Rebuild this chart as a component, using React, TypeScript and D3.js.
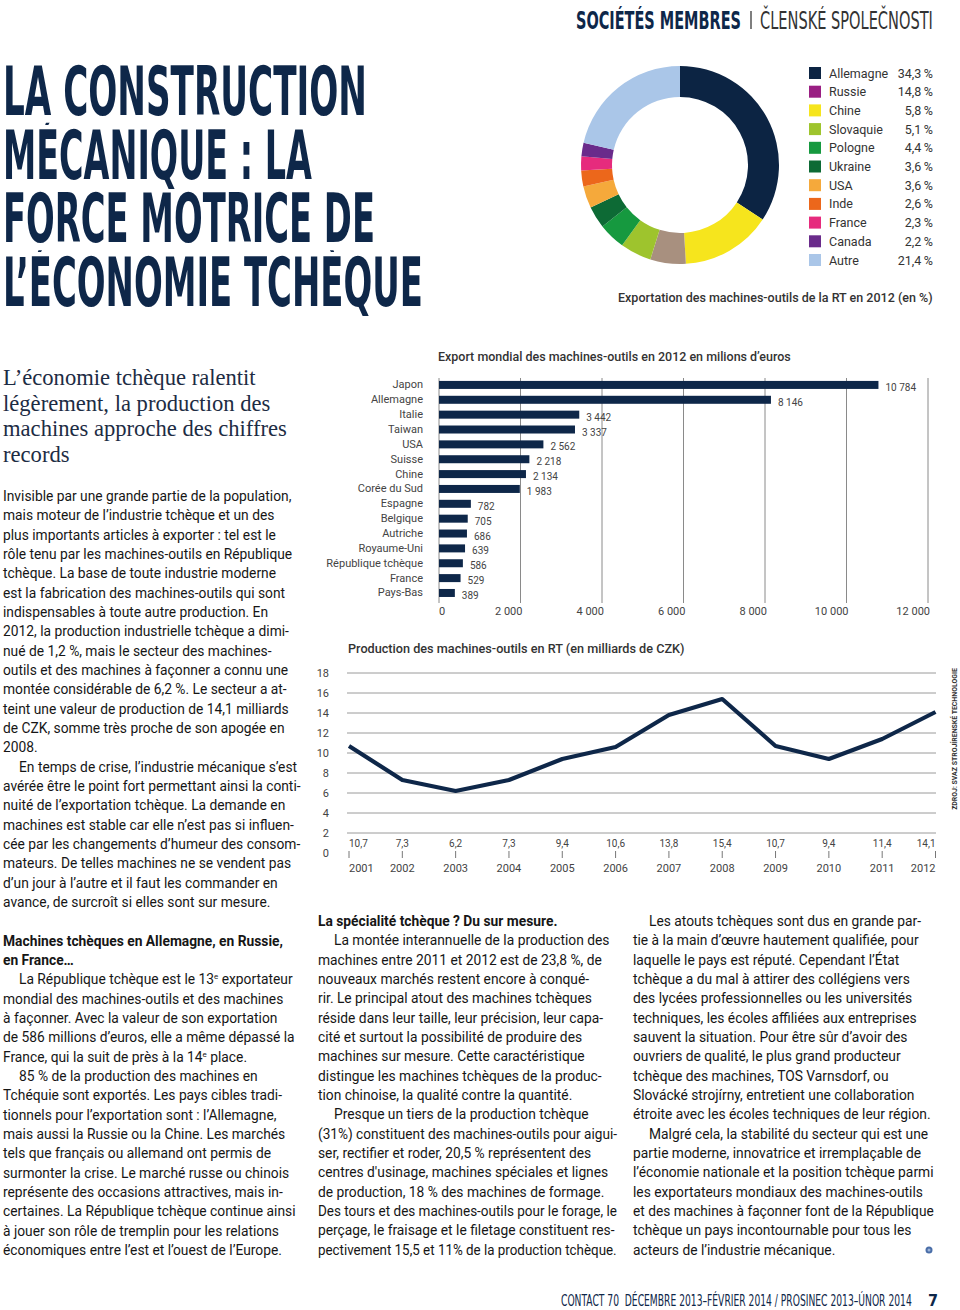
import React, { useLayoutEffect, useRef, useState } from "react";
import * as d3 from "d3";

const NAVY = "#0e2749";
const TEXT = "#161616";
const GRAY = "#444";

// Donut data
const donutCountries = ["Allemagne", "Russie", "Chine", "Slovaquie", "Pologne", "Ukraine", "USA", "Inde", "France", "Canada", "Autre"];
const donutShares = [34.3, 14.8, 5.8, 5.1, 4.4, 3.6, 3.6, 2.6, 2.3, 2.2, 21.4];
const sliceColors = ["#0c2443", "#f6e51d", "#a8907f", "#9ec42d", "#16993f", "#0d6a35", "#f5a93b", "#ec671b", "#e62b7d", "#6a2b8b", "#aac6e8"];
const legendColors = ["#0c2443", "#9a1f83", "#f6e51d", "#9ec42d", "#16993f", "#0d6a35", "#f5a93b", "#ec671b", "#e62b7d", "#6a2b8b", "#aac6e8"];

// Bar chart data
const barCountries = ["Japon", "Allemagne", "Italie", "Taiwan", "USA", "Suisse", "Chine", "Corée du Sud", "Espagne", "Belgique", "Autriche", "Royaume-Uni", "République tchèque", "France", "Pays-Bas"];
const barValues = [10784, 8146, 3442, 3337, 2562, 2218, 2134, 1983, 782, 705, 686, 639, 586, 529, 389];
const barTicks = [0, 2000, 4000, 6000, 8000, 10000, 12000];

// Line chart data
const years = ["2001", "2002", "2003", "2004", "2005", "2006", "2007", "2008", "2009", "2010", "2011", "2012"];
const production = [10.7, 7.3, 6.2, 7.3, 9.4, 10.6, 13.8, 15.4, 10.7, 9.4, 11.4, 14.1];
const lineTicks = [0, 2, 4, 6, 8, 10, 12, 14, 16, 18];

const titleLines = ["LA CONSTRUCTION", "MÉCANIQUE : LA", "FORCE MOTRICE DE", "L’ÉCONOMIE TCHÈQUE"];
const titleWidths = [364, 309, 372, 420];

const introLines = ["L’économie tchèque ralentit", "légèrement, la production des", "machines approche des chiffres", "records"];

type Line = { t: string; b?: boolean; i?: boolean; sup?: [string, string, string] } | null;

const leftCol: Line[] = [
  { t: "Invisible par une grande partie de la population," },
  { t: "mais moteur de l’industrie tchèque et un des" },
  { t: "plus importants articles à exporter : tel est le" },
  { t: "rôle tenu par les machines-outils en République" },
  { t: "tchèque. La base de toute industrie moderne" },
  { t: "est la fabrication des machines-outils qui sont" },
  { t: "indispensables à toute autre production. En" },
  { t: "2012, la production industrielle tchèque a dimi-" },
  { t: "nué de 1,2 %, mais le secteur des machines-" },
  { t: "outils et des machines à façonner a connu une" },
  { t: "montée considérable de 6,2 %. Le secteur a at-" },
  { t: "teint une valeur de production de 14,1 milliards" },
  { t: "de CZK, somme très proche de son apogée en" },
  { t: "2008." },
  { t: "En temps de crise, l’industrie mécanique s’est", i: true },
  { t: "avérée être le point fort permettant ainsi la conti-" },
  { t: "nuité de l’exportation tchèque. La demande en" },
  { t: "machines est stable car elle n’est pas si influen-" },
  { t: "cée par les changements d’humeur des consom-" },
  { t: "mateurs. De telles machines ne se vendent pas" },
  { t: "d’un jour à l’autre et il faut les commander en" },
  { t: "avance, de surcroît si elles sont sur mesure." },
  null,
  { t: "Machines tchèques en Allemagne, en Russie,", b: true },
  { t: "en France…", b: true },
  { t: "", i: true, sup: ["La République tchèque est le 13", "e", " exportateur"] },
  { t: "mondial des machines-outils et des machines" },
  { t: "à façonner. Avec la valeur de son exportation" },
  { t: "de 586 millions d’euros, elle a même dépassé la" },
  { t: "", sup: ["France, qui la suit de près à la 14", "e", " place."] },
  { t: "85 % de la production des machines en", i: true },
  { t: "Tchéquie sont exportés. Les pays cibles tradi-" },
  { t: "tionnels pour l’exportation sont : l’Allemagne," },
  { t: "mais aussi la Russie ou la Chine. Les marchés" },
  { t: "tels que français ou allemand ont permis de" },
  { t: "surmonter la crise. Le marché russe ou chinois" },
  { t: "représente des occasions attractives, mais in-" },
  { t: "certaines. La République tchèque continue ainsi" },
  { t: "à jouer son rôle de tremplin pour les relations" },
  { t: "économiques entre l’est et l’ouest de l’Europe." },
];

const midCol: Line[] = [
  { t: "La spécialité tchèque ? Du sur mesure.", b: true },
  { t: "La montée interannuelle de la production des", i: true },
  { t: "machines entre 2011 et 2012 est de 23,8 %, de" },
  { t: "nouveaux marchés restent encore à conqué-" },
  { t: "rir. Le principal atout des machines tchèques" },
  { t: "réside dans leur taille, leur précision, leur capa-" },
  { t: "cité et surtout la possibilité de produire des" },
  { t: "machines sur mesure. Cette caractéristique" },
  { t: "distingue les machines tchèques de la produc-" },
  { t: "tion chinoise, la qualité contre la quantité." },
  { t: "Presque un tiers de la production tchèque", i: true },
  { t: "(31%) constituent des machines-outils pour aigui-" },
  { t: "ser, rectifier et roder, 20,5 % représentent des" },
  { t: "centres d'usinage, machines spéciales et lignes" },
  { t: "de production, 18 % des machines de formage." },
  { t: "Des tours et des machines-outils pour le forage, le" },
  { t: "perçage, le fraisage et le filetage constituent res-" },
  { t: "pectivement 15,5 et 11% de la production tchèque." },
];

const rightCol: Line[] = [
  { t: "Les atouts tchèques sont dus en grande par-", i: true },
  { t: "tie à la main d’œuvre hautement qualifiée, pour" },
  { t: "laquelle le pays est réputé. Cependant l’État" },
  { t: "tchèque a du mal à attirer des collégiens vers" },
  { t: "des lycées professionnelles ou les universités" },
  { t: "techniques, les écoles affiliées aux entreprises" },
  { t: "sauvent la situation. Pour être sûr d’avoir des" },
  { t: "ouvriers de qualité, le plus grand producteur" },
  { t: "tchèque des machines, TOS Varnsdorf, ou" },
  { t: "Slovácké strojírny, entretient une collaboration" },
  { t: "étroite avec les écoles techniques de leur région." },
  { t: "Malgré cela, la stabilité du secteur qui est une", i: true },
  { t: "partie moderne, innovatrice et irremplaçable de" },
  { t: "l’économie nationale et la position tchèque parmi" },
  { t: "les exportateurs mondiaux des machines-outils" },
  { t: "et des machines à façonner font de la République" },
  { t: "tchèque un pays incontournable pour tous les" },
  { t: "acteurs de l’industrie mécanique." },
];

const BODY_FONT = "Roboto, 'Noto Sans', sans-serif";
const COND = "'DejaVu Sans Condensed', 'Liberation Sans Narrow', 'DejaVu Sans', sans-serif";
const LH = 19.33;
const TITLE_SIZE = 67;

// Text squeezed horizontally (via transform, so its box is right) to a target width
function FitText(props: any) {
  const { x, y, width, maxWidth, rotate, children, ...rest } = props;
  const ref = useRef<SVGTextElement>(null);
  const [s, setS] = useState(1);
  useLayoutEffect(() => {
    const el = ref.current;
    if (!el) return;
    const w = el.getComputedTextLength();
    if (w <= 0) return;
    if (width) setS(width / w);
    else if (maxWidth && w > maxWidth) setS(maxWidth / w);
  }, [width, maxWidth]);
  const tr = `translate(${x},${y})${rotate ? ` rotate(${rotate})` : ""} scale(${s},1)`;
  return (
    <text ref={ref} x={0} y={0} transform={tr} {...rest}>
      {children}
    </text>
  );
}

function Column({ lines, x, y0, right }: { lines: Line[]; x: number; y0: number; right: number }) {
  return (
    <g fontFamily={BODY_FONT} fontSize={13.8} fill={TEXT}>
      {lines.map((l, k) => {
        if (!l) return null;
        const xx = x + (l.i ? 16 : 0);
        const y = y0 + k * LH;
        return (
          <FitText key={k} x={xx} y={y} maxWidth={right - xx} fontWeight={l.b ? 700 : 400}>
            {l.sup ? (
              <>
                {l.sup[0]}
                <tspan fontSize={8} dy={-5}>{l.sup[1]}</tspan>
                <tspan dy={5}>{l.sup[2]}</tspan>
              </>
            ) : (
              l.t
            )}
          </FitText>
        );
      })}
    </g>
  );
}

export default function App() {
  // donut
  const pie = d3.pie<number>().sort(null).value((d) => d)(donutShares);
  const arc = d3.arc<d3.PieArcDatum<number>>().innerRadius(68).outerRadius(99);
  const pct = (v: number) => d3.format(".1f")(v).replace(".", ",") + "\u2009%";

  // bar chart
  const bx = d3.scaleLinear().domain([0, 12000]).range([439, 928]);
  const by = d3.scaleBand<string>().domain(barCountries).range([377.5, 600.4]).padding(0);
  const bw = by.bandwidth();
  const fmtK = (v: number) => d3.format(",")(v).replace(/,/g, " ");

  // line chart
  const lx = d3.scalePoint<string>().domain(years).range([349, 935.5]);
  const ly = d3.scaleLinear().domain([0, 18]).range([853, 673]);
  const line = d3
    .line<number>()
    .x((_, i) => lx(years[i]) as number)
    .y((d) => ly(d));
  const fmt1 = (v: number) => d3.format(".1f")(v).replace(".", ",");

  const titleBase = (i: number) => 115 + i * 63.7;
  const capH = TITLE_SIZE * 0.729;

  return (
    <svg width={960} height={1310} viewBox="0 0 960 1310" style={{ position: "absolute", left: 0, top: 0, background: "#fff" }}>
      <defs>
        {titleLines.map((t, i) => (
          <clipPath key={t} id={`tclip${i}`}>
            <rect x={0} y={titleBase(i) - capH - 7} width={440} height={capH + 7 + 16} />
          </clipPath>
        ))}
      </defs>
      <rect width={960} height={1310} fill="#fff" />
      {/* Header */}
      <FitText x={576} y={29} width={165} fontFamily={COND} fontWeight={700} fontSize={25} fill={NAVY}>
        SOCIÉTÉS MEMBRES
      </FitText>
      <line x1={751} x2={751} y1={11} y2={29} stroke="#555" strokeWidth={1.5} />
      <FitText x={760} y={29} width={173} fontFamily={COND} fontWeight={400} fontSize={25} fill="#333">
        ČLENSKÉ SPOLEČNOSTI
      </FitText>

      {/* Big title */}
      {titleLines.map((t, i) => (
        <g key={t} clipPath={`url(#tclip${i})`}>
          <FitText x={3} y={titleBase(i)} width={titleWidths[i]} fontFamily={COND} fontWeight={700} fontSize={TITLE_SIZE} fill={NAVY}>
            {t}
          </FitText>
        </g>
      ))}

      {/* Donut */}
      <g transform="translate(680,165)">
        {pie.map((p, i) => (
          <path key={i} d={arc(p) as string} fill={sliceColors[i]} />
        ))}
      </g>
      <g fontFamily={BODY_FONT} fontSize={12.5} fill="#333">
        {donutCountries.map((c, i) => {
          const cy = 73 + i * 18.7;
          return (
            <g key={c}>
              <rect x={809} y={cy - 6} width={12} height={12} fill={legendColors[i]} />
              <text x={829} y={cy + 4.5}>{c}</text>
              <text x={933} y={cy + 4.5} textAnchor="end">{pct(donutShares[i])}</text>
            </g>
          );
        })}
      </g>
      <FitText x={618} y={301.5} width={315} fontFamily={BODY_FONT} fontSize={12} fontWeight={500} fill="#333">
        Exportation des machines-outils de la RT en 2012 (en %)
      </FitText>

      {/* Intro serif */}
      <g fontFamily="'Liberation Serif', 'DejaVu Serif', serif" fontSize={22.6} fill="#1d2c44">
        {introLines.map((t, i) => (
          <text key={t} x={3} y={385 + i * 25.6}>{t}</text>
        ))}
      </g>

      {/* Bar chart */}
      <FitText x={438} y={361} width={353} fontFamily={BODY_FONT} fontSize={12} fontWeight={500} fill="#333">
        Export mondial des machines-outils en 2012 en milions d’euros
      </FitText>
      <g>
        {barTicks.map((t) => (
          <line key={t} x1={bx(t)} x2={bx(t)} y1={378} y2={603} stroke="#8a8a8a" strokeWidth={1} />
        ))}
        {barCountries.map((c, i) => {
          const cy = (by(c) as number) + bw / 2;
          return (
            <g key={c}>
              <rect x={bx(0)} y={cy - 4} width={bx(barValues[i]) - bx(0)} height={8} fill={NAVY} />
              <text x={423} y={cy + 3.5} textAnchor="end" fontFamily={BODY_FONT} fontSize={11} fill={GRAY}>{c}</text>
              <text x={bx(barValues[i]) + 7} y={cy + 6} fontFamily={BODY_FONT} fontSize={10} fill={GRAY}>{fmtK(barValues[i])}</text>
            </g>
          );
        })}
        {barTicks.map((t, i) => (
          <text key={t} x={i === 0 ? bx(t) : bx(t) + 2} y={615} textAnchor={i === 0 ? "start" : "end"} fontFamily={BODY_FONT} fontSize={11} fill={GRAY}>
            {fmtK(t)}
          </text>
        ))}
      </g>

      {/* Line chart */}
      <FitText x={348} y={653} width={337} fontFamily={BODY_FONT} fontSize={12} fontWeight={500} fill="#333">
        Production des machines-outils en RT (en milliards de CZK)
      </FitText>
      <g>
        {lineTicks.filter((t) => t > 0).map((t) => (
          <line key={t} x1={347} x2={936} y1={ly(t)} y2={ly(t)} stroke="#9a9a9a" strokeWidth={1} />
        ))}
        {lineTicks.map((t) => (
          <text key={t} x={329} y={ly(t) + 4} textAnchor="end" fontFamily={BODY_FONT} fontSize={11} fill={GRAY}>{t}</text>
        ))}
        {years.map((yv) => (
          <line key={yv} x1={lx(yv) as number} x2={lx(yv) as number} y1={851} y2={858} stroke="#777" strokeWidth={1} />
        ))}
        <path d={line(production) as string} fill="none" stroke={NAVY} strokeWidth={4.2} strokeLinejoin="round" strokeLinecap="butt" />
        {years.map((yv, i) => {
          const anchor = i === 0 ? "start" : i === years.length - 1 ? "end" : "middle";
          const xx = lx(yv) as number;
          return (
            <g key={yv} fontFamily={BODY_FONT} fill={GRAY}>
              <text x={xx} y={846.5} fontSize={10} textAnchor={anchor}>{fmt1(production[i])}</text>
              <text x={xx} y={871.5} fontSize={11} textAnchor={anchor}>{yv}</text>
            </g>
          );
        })}
      </g>
      <FitText x={957} y={739} rotate={-90} width={142} textAnchor="middle" fontFamily={BODY_FONT} fontWeight={700} fontSize={7} fill="#333">
        ZDROJ: SVAZ STROJÍRENSKÉ TECHNOLOGIE
      </FitText>

      {/* Body columns */}
      <Column lines={leftCol} x={3} y0={501} right={301} />
      <Column lines={midCol} x={318} y0={926} right={617} />
      <Column lines={rightCol} x={633} y0={926} right={934} />
      <circle cx={929} cy={1250} r={3.5} fill="#4a6ea8" />
      <circle cx={929} cy={1250} r={1.5} fill="#9db4d8" />

      {/* Footer */}
      <FitText x={561} y={1306} width={351} fontFamily={COND} fontSize={16} fill={NAVY}>
        CONTACT 70{"\u00a0\u00a0"}DÉCEMBRE 2013–FÉVRIER 2014 / PROSINEC 2013–ÚNOR 2014
      </FitText>
      <text x={928} y={1306} fontFamily={COND} fontWeight={700} fontSize={16} fill={NAVY}>7</text>
    </svg>
  );
}
